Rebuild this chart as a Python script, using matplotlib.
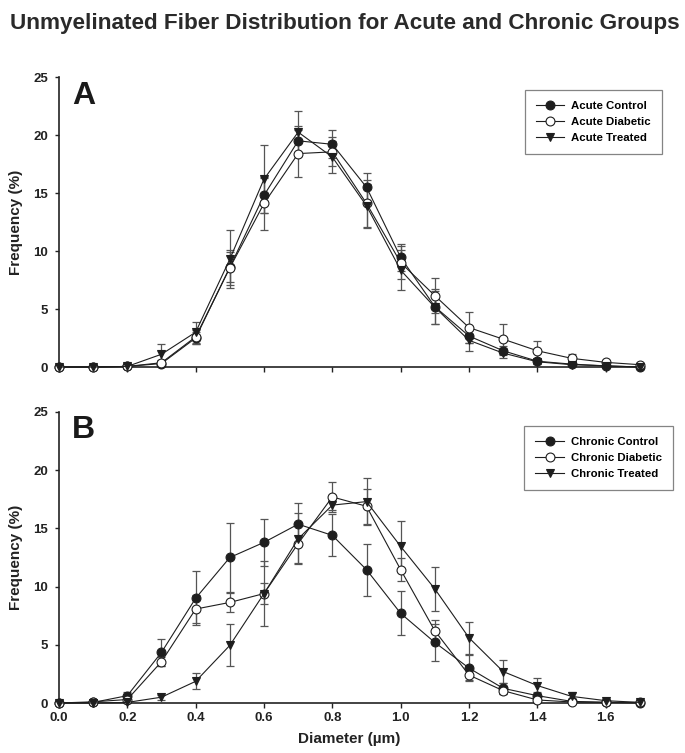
import matplotlib
matplotlib.use("Agg")
import matplotlib.pyplot as plt
import numpy as np

diameter = [0.0, 0.1, 0.2, 0.3, 0.4, 0.5, 0.6, 0.7, 0.8, 0.9, 1.0, 1.1, 1.2, 1.3, 1.4, 1.5, 1.6, 1.7]

acute_control = [0, 0, 0.05, 0.3, 2.5, 8.6, 14.8, 19.5, 19.2, 15.5, 9.45, 5.2, 2.67, 1.4, 0.5, 0.25, 0.1, 0]
acute_control_err = [0, 0, 0.05, 0.2, 0.5, 1.3, 1.5, 1.3, 1.2, 1.2, 1.15, 1.5, 0.6, 0.4, 0.2, 0.1, 0.05, 0]
acute_diabetic = [0, 0, 0.05, 0.37, 2.6, 8.55, 14.1, 18.4, 18.55, 14.1, 9.0, 6.15, 3.4, 2.4, 1.4, 0.75, 0.4, 0.2]
acute_diabetic_err = [0, 0, 0.05, 0.2, 0.6, 1.5, 2.3, 2.0, 1.25, 2.0, 1.4, 1.5, 1.3, 1.3, 0.87, 0.35, 0.15, 0.1]
acute_treated = [0, 0, 0.05, 1.1, 3.0, 9.3, 16.2, 20.25, 18.1, 13.9, 8.35, 5.15, 2.3, 1.2, 0.45, 0.2, 0.1, 0]
acute_treated_err = [0, 0, 0.05, 0.9, 0.9, 2.5, 2.9, 1.8, 1.4, 1.9, 1.75, 1.4, 0.9, 0.45, 0.2, 0.1, 0.05, 0]

chronic_control = [0, 0.05, 0.63, 4.35, 9.0, 12.5, 13.8, 15.36, 14.4, 11.45, 7.7, 5.2, 3.0, 1.26, 0.63, 0.14, 0.06, 0]
chronic_control_err = [0, 0.05, 0.3, 1.15, 2.3, 3.0, 2.0, 1.8, 1.8, 2.25, 1.9, 1.6, 1.15, 0.5, 0.3, 0.1, 0.05, 0]
chronic_diabetic = [0, 0.1, 0.3, 3.55, 8.07, 8.64, 9.4, 13.7, 17.7, 16.9, 11.45, 6.2, 2.4, 1.06, 0.26, 0.09, 0.05, 0.05]
chronic_diabetic_err = [0, 0.05, 0.2, 0.4, 1.2, 0.8, 0.9, 1.7, 1.26, 1.5, 1.0, 0.9, 0.4, 0.3, 0.15, 0.05, 0.05, 0.05]
chronic_treated = [0, 0, 0.05, 0.5, 1.86, 4.95, 9.4, 14.1, 17.0, 17.3, 13.45, 9.8, 5.6, 2.7, 1.5, 0.57, 0.2, 0.05]
chronic_treated_err = [0, 0, 0.05, 0.2, 0.7, 1.8, 2.8, 2.2, 0.4, 2.0, 2.15, 1.9, 1.4, 1.0, 0.65, 0.4, 0.1, 0.05]

acute_labels = ["Acute Control", "Acute Diabetic", "Acute Treated"]
chronic_labels = ["Chronic Control", "Chronic Diabetic", "Chronic Treated"]
yticks = [0, 5, 10, 15, 20, 25]
xticks = [0.0, 0.2, 0.4, 0.6, 0.8, 1.0, 1.2, 1.4, 1.6]

plt.rcParams['font.family'] = ['Liberation Sans', 'DejaVu Sans']
plt.rcParams['font.weight'] = 'bold'

fig = plt.figure(figsize=(6.85, 7.53), dpi=100)
axA = fig.add_axes([0.0861, 0.5126, 0.848, 0.3851])
axB = fig.add_axes([0.0861, 0.0664, 0.848, 0.3865])

line_c = '#1e1e1e'
err_c = '#555555'
styles = [dict(marker='o', mfc=line_c, mec=line_c),
          dict(marker='o', mfc='white', mec=line_c),
          dict(marker='v', mfc=line_c, mec=line_c)]


def draw(ax, series, labels, panel, show_xlabels, legend_anchor):
    handles = []
    for (vals, errs), st, lab in zip(series, styles, labels):
        ax.errorbar(diameter, vals, yerr=errs, fmt='none', ecolor=err_c,
                    elinewidth=0.9, capsize=3.2, capthick=0.9, zorder=2, clip_on=False)
        h, = ax.plot(diameter, vals, color=line_c, lw=0.8, ms=6.4, mew=0.8,
                     zorder=3, clip_on=False, label=lab, **st)
        handles.append(h)
    ax.set_xlim(0, 1.7)
    ax.set_ylim(0, 25)
    ax.set_yticks(yticks)
    ax.set_xticks(xticks)
    for s in ['top', 'right']:
        ax.spines[s].set_visible(False)
    for s in ['left', 'bottom']:
        ax.spines[s].set_linewidth(1.2)
        ax.spines[s].set_color('#222222')
    ax.spines['bottom'].set_bounds(0, 1.7)
    ax.tick_params(axis='y', direction='out', length=3, width=1, colors='#222222',
                   labelsize=9.5, pad=5)
    ax.tick_params(axis='x', direction='out', length=3.5, width=1, colors='#222222',
                   labelsize=9.5, pad=3)
    if show_xlabels:
        ax.set_xticklabels([f"{t:.1f}" for t in xticks], fontweight='bold')
        ax.set_xlabel("Diameter (\u00b5m)", fontsize=11, fontweight='bold', labelpad=6,
                      color='#222222')
    else:
        ax.set_xticklabels([])
    ax.set_yticklabels([str(t) for t in yticks], fontweight='bold')
    ax.set_ylabel("Frequency (%)", fontsize=11, fontweight='bold', labelpad=7,
                  color='#222222')
    ax.text(0.022, 0.988, panel, transform=ax.transAxes, fontsize=23,
            fontweight='bold', va='top', ha='left', color='#1a1a1a')
    leg = fig.legend(handles=handles, loc='upper right', bbox_to_anchor=legend_anchor,
                     borderaxespad=0, frameon=True, fancybox=False, edgecolor='#666666',
                     prop={'weight': 'bold', 'size': 8.2}, handlelength=2.5,
                     borderpad=0.96, labelspacing=0.52, handletextpad=0.6)
    leg.get_frame().set_linewidth(0.9)


draw(axA, [(acute_control, acute_control_err), (acute_diabetic, acute_diabetic_err),
           (acute_treated, acute_treated_err)], acute_labels, "A", False, (0.966, 0.880))
draw(axB, [(chronic_control, chronic_control_err), (chronic_diabetic, chronic_diabetic_err),
           (chronic_treated, chronic_treated_err)], chronic_labels, "B", True, (0.982, 0.434))

fig.text(0.503, 0.969, "Unmyelinated Fiber Distribution for Acute and Chronic Groups",
         ha='center', va='center', fontsize=16.2, fontweight='bold', color='#2a2a2a')

fig.savefig("out.png", dpi=100)
